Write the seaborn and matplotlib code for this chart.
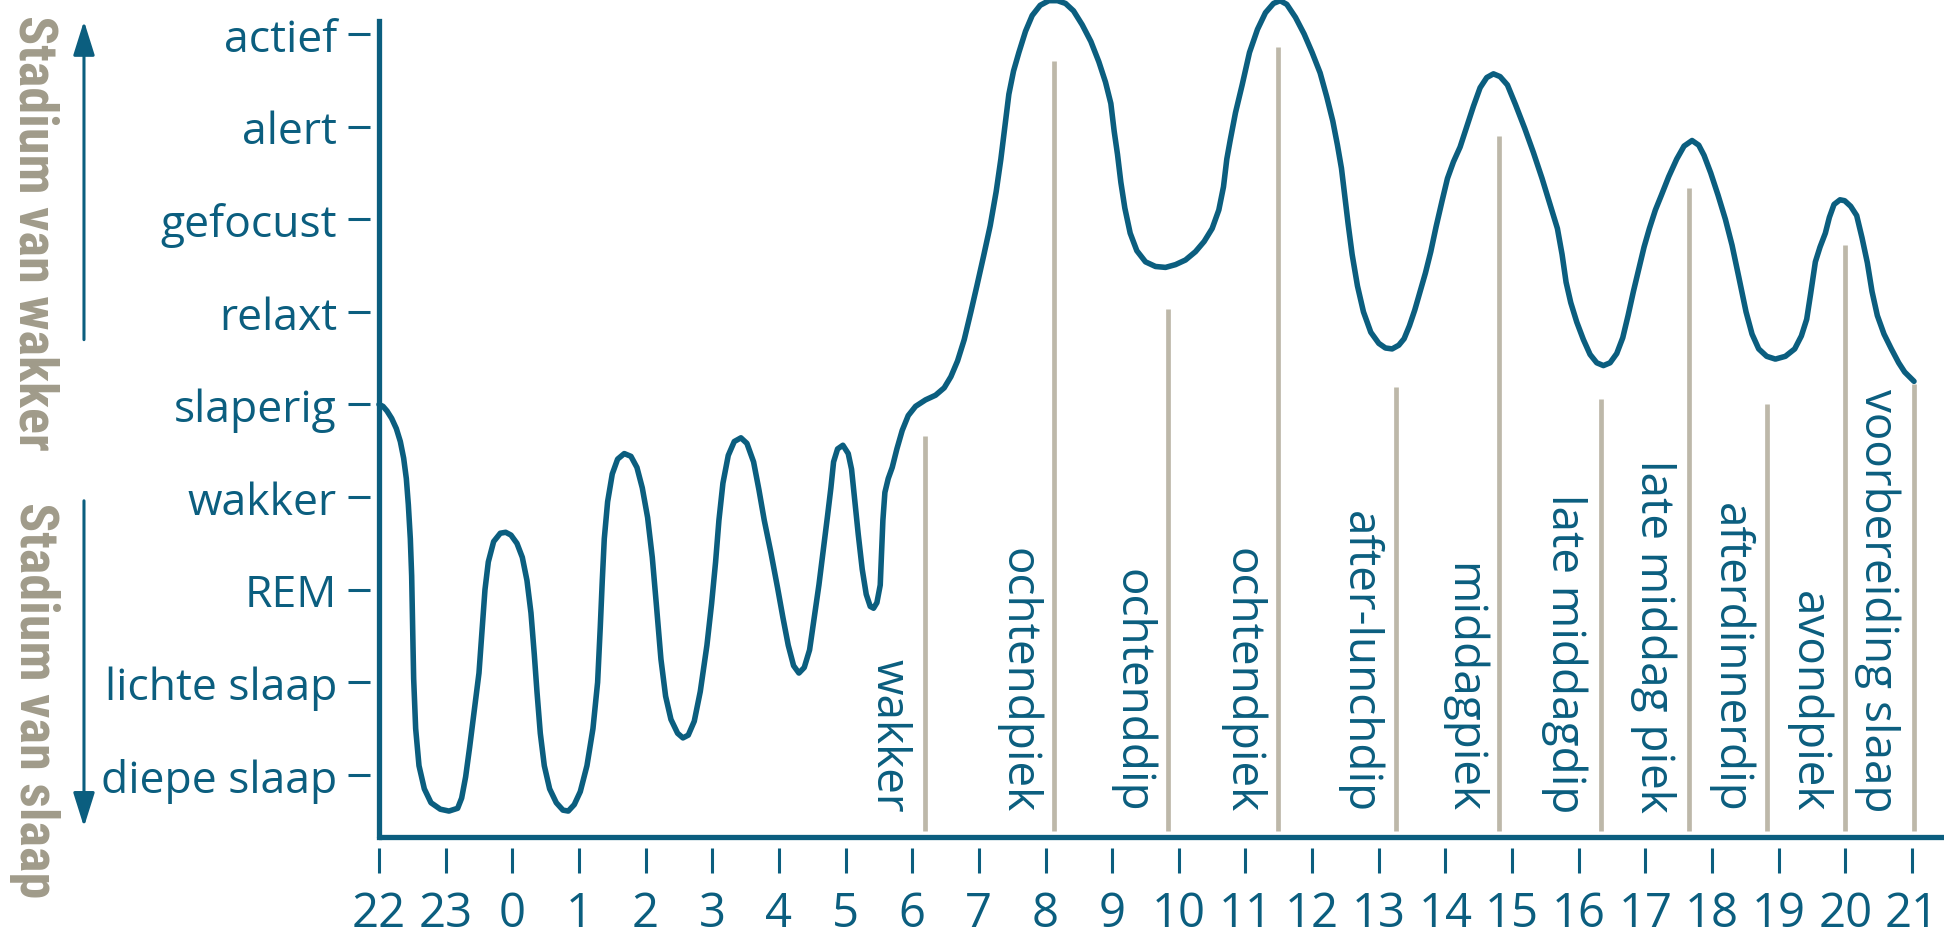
import matplotlib
matplotlib.use("Agg")
import matplotlib.pyplot as plt
import matplotlib.transforms as mtransforms
from matplotlib import font_manager
import seaborn as sns

# hours on the x axis, counted from 22:00
hour_labels = ['22', '23', '0', '1', '2', '3', '4', '5', '6', '7', '8', '9', '10',
               '11', '12', '13', '14', '15', '16', '17', '18', '19', '20', '21']

# stages on the y axis (1 = deepest sleep)
stage_labels = ['diepe slaap', 'lichte slaap', 'REM', 'wakker', 'slaperig',
                'relaxt', 'gefocust', 'alert', 'actief']

# the curve (hours since 22:00, stage level)
curve_t = [0.00, 0.06, 0.12, 0.19, 0.26, 0.32, 0.37, 0.41, 0.44, 0.47, 0.49, 0.50, 0.51,
           0.52, 0.55, 0.60, 0.68, 0.78, 0.92,
           1.05, 1.18, 1.24, 1.30, 1.36, 1.43, 1.50, 1.55, 1.59, 1.64, 1.72, 1.82, 1.90,
           1.98, 2.07, 2.15, 2.22, 2.28, 2.33, 2.37, 2.42, 2.48, 2.56, 2.66, 2.76, 2.84,
           2.93, 3.02, 3.12, 3.21, 3.28, 3.32, 3.35, 3.38, 3.43, 3.50, 3.58, 3.68, 3.78,
           3.87, 3.95, 4.03, 4.10, 4.16, 4.23, 4.30, 4.38, 4.48, 4.56, 4.64, 4.73, 4.82,
           4.92, 4.99, 5.05, 5.10, 5.16, 5.24, 5.33, 5.43, 5.52, 5.62, 5.70, 5.78, 5.88,
           5.98, 6.06, 6.14, 6.22, 6.30, 6.38, 6.46, 6.53, 6.60, 6.67, 6.73, 6.78, 6.82,
           6.88, 6.96, 7.04, 7.09, 7.14, 7.19, 7.25, 7.31, 7.37, 7.42, 7.47, 7.52, 7.54,
           7.56, 7.59, 7.64, 7.70, 7.77, 7.85, 7.94, 8.05, 8.20, 8.35, 8.48, 8.58, 8.68,
           8.78, 8.88, 8.97, 9.07, 9.17, 9.26, 9.33, 9.39, 9.45, 9.52, 9.60, 9.70, 9.80,
           9.92, 10.05, 10.18, 10.30, 10.42, 10.55, 10.68, 10.80, 10.90, 10.98, 11.03,
           11.08, 11.13, 11.19, 11.27, 11.37, 11.50, 11.65, 11.80, 11.95, 12.10, 12.25,
           12.38, 12.50, 12.60, 12.67, 12.72, 12.77, 12.85, 12.95, 13.06, 13.18, 13.30,
           13.42, 13.52, 13.62, 13.75, 13.88, 14.00, 14.12, 14.22, 14.31, 14.38, 14.44,
           14.49, 14.54, 14.60, 14.68, 14.77, 14.88, 15.00, 15.10, 15.20, 15.30, 15.38,
           15.46, 15.54, 15.62, 15.70, 15.78, 15.86, 15.95, 16.03, 16.12, 16.22, 16.32,
           16.42, 16.52, 16.62, 16.72, 16.82, 16.93, 17.05, 17.19, 17.32, 17.45, 17.57,
           17.68, 17.75, 17.81, 17.88, 17.97, 18.07, 18.17, 18.27, 18.37, 18.47, 18.57,
           18.66, 18.74, 18.82, 18.90, 18.98, 19.06, 19.15, 19.24, 19.35, 19.47, 19.58,
           19.70, 19.80, 19.88, 19.98, 20.09, 20.20, 20.30, 20.40, 20.51, 20.60, 20.70,
           20.82, 20.95, 21.10, 21.24, 21.34, 21.42, 21.48, 21.55, 21.62, 21.70, 21.76,
           21.83, 21.92, 21.99, 22.08, 22.17, 22.25, 22.33, 22.40, 22.48, 22.58, 22.69,
           22.80, 22.89, 23.03]
curve_level = [5.00, 4.98, 4.93, 4.85, 4.74, 4.60, 4.42, 4.20, 3.92, 3.55, 3.15, 2.80, 2.40,
               2.04, 1.50, 1.10, 0.85, 0.70, 0.63,
               0.61, 0.64, 0.75, 0.98, 1.30, 1.70, 2.10, 2.60, 3.00, 3.30, 3.52, 3.61, 3.62,
               3.59, 3.50, 3.35, 3.10, 2.75, 2.30, 1.90, 1.45, 1.10, 0.85, 0.70, 0.62, 0.61,
               0.68, 0.82, 1.10, 1.50, 2.00, 2.60, 3.10, 3.55, 3.95, 4.25, 4.41, 4.47, 4.44,
               4.32, 4.10, 3.78, 3.35, 2.85, 2.25, 1.85, 1.60, 1.45, 1.40, 1.43, 1.58, 1.90,
               2.40, 2.85, 3.30, 3.75, 4.15, 4.45, 4.60, 4.64, 4.58, 4.38, 4.08, 3.75, 3.40,
               3.02, 2.70, 2.40, 2.18, 2.10, 2.16, 2.35, 2.70, 3.05, 3.45, 3.80, 4.10, 4.38,
               4.52, 4.56, 4.47, 4.30, 3.95, 3.60, 3.22, 2.95, 2.82, 2.80, 2.86, 3.05, 3.40,
               3.75, 4.05, 4.20, 4.32, 4.52, 4.72, 4.88, 4.98, 5.05, 5.10, 5.18, 5.30, 5.47,
               5.70, 6.00, 6.28, 6.60, 6.93, 7.30, 7.65, 8.00, 8.35, 8.60, 8.80, 9.03, 9.20,
               9.31, 9.36, 9.36, 9.33, 9.25, 9.10, 8.92, 8.70, 8.48, 8.25, 7.95,
               7.70, 7.40, 7.12, 6.85, 6.66, 6.54, 6.49, 6.48, 6.51, 6.56, 6.65,
               6.76, 6.90, 7.10, 7.35, 7.65, 7.85, 8.15, 8.45, 8.80, 9.05, 9.23,
               9.33, 9.36, 9.32, 9.18, 9.00, 8.80, 8.58, 8.32, 8.06, 7.80, 7.55,
               7.25, 6.95, 6.62, 6.28, 6.00, 5.78, 5.66, 5.61, 5.60, 5.64, 5.71,
               5.85, 6.02, 6.22, 6.42, 6.65, 6.92, 7.20, 7.44, 7.62, 7.78, 8.00,
               8.22, 8.42, 8.53, 8.57, 8.54, 8.45, 8.24, 7.98, 7.72, 7.44, 7.16,
               6.90, 6.62, 6.32, 6.10, 5.89, 5.70, 5.54, 5.45, 5.42, 5.45, 5.55,
               5.72, 5.96, 6.22, 6.46, 6.70, 6.90, 7.10, 7.26, 7.46, 7.65, 7.79,
               7.85, 7.80, 7.69, 7.50, 7.26, 7.00, 6.72, 6.38, 6.00, 5.76, 5.60,
               5.52, 5.49, 5.52, 5.60, 5.74, 5.92, 6.20, 6.54, 6.70, 6.85, 7.02,
               7.16, 7.21, 7.20, 7.14, 7.04, 6.80, 6.53, 6.22, 5.96, 5.76, 5.60,
               5.45, 5.35, 5.25]

# grey marker lines with their names
marker_t = [8.19, 10.13, 11.84, 13.49, 15.26, 16.81, 18.33, 19.66, 20.82, 21.99, 23.03]
marker_top = [4.66, 8.71, 6.03, 8.86, 5.19, 7.90, 5.06, 7.34, 5.00, 6.72, 5.22]
marker_labels = ['wakker', 'ochtendpiek', 'ochtenddip', 'ochtendpiek', 'after-lunchdip',
                 'middagpiek', 'late middagdip', 'late middag piek', 'afterdinnerdip',
                 'avondpiek', 'voorbereiding slaap']

blue = '#0b5e7f'
grey_line = '#bdb8a9'
grey_text = '#a09b8a'

sns.set_style('white')
plt.rcParams['font.family'] = ['Open Sans', 'DejaVu Sans']

# narrow bold font for the side captions, whichever is installed
installed = {f.name for f in font_manager.fontManager.ttflist}
narrow = [n for n in ['Roboto Condensed', 'Liberation Sans Narrow', 'Open Sans Condensed',
                      'Roboto'] if n in installed]
narrow_size = 39 if narrow and narrow[0] != 'Roboto' else 34

fig = plt.figure(figsize=(19.44, 9.37), dpi=100)
ax = fig.add_axes([379 / 1944, 99 / 937, 1565 / 1944, 838 / 937])

ax.vlines(marker_t, 0.40, marker_top, color=grey_line, linewidth=3.4, zorder=1)
sns.lineplot(x=curve_t, y=curve_level, sort=False, estimator=None, color=blue,
             linewidth=4.0, ax=ax, zorder=3, clip_on=False)

for t, lab in zip(marker_t, marker_labels):
    ax.text(t - 0.2, 0.60, lab, rotation=270, ha='right', va='bottom',
            fontsize=33, color=blue)

ax.set_xlim(0, 23.48)
ax.set_ylim(0.33, 9.378)
ax.set_xticks(range(len(hour_labels)))
ax.set_xticklabels(hour_labels)
ax.set_yticks(range(1, len(stage_labels) + 1))
ax.set_yticklabels(stage_labels)

for s in ['top', 'right']:
    ax.spines[s].set_visible(False)
ax.spines['left'].set_position(('outward', 6.5))
ax.spines['bottom'].set_position(('outward', 8))
ax.spines['left'].set_color('none')
ax.spines['bottom'].set_color('none')

ax.tick_params(axis='y', length=15.8, width=2.2, color=blue, pad=8,
               labelsize=32, labelcolor=blue, left=True)
ax.tick_params(axis='x', length=18, width=2.2, color=blue, pad=12,
               labelsize=34, labelcolor=blue, bottom=True)

# visible axis lines (ticks sit a little away from them)
ymax_frac = (9.14 - 0.33) / (9.378 - 0.33)
ax.axvline(0, ymin=0, ymax=ymax_frac, color=blue, linewidth=3.8,
           clip_on=False, solid_capstyle='projecting', zorder=4)
ax.axhline(0.33, color=blue, linewidth=3.8, clip_on=False, zorder=4)

# side captions and arrows
side = mtransforms.blended_transform_factory(fig.transFigure, ax.transData)
ax.text(0.0175, 9.22, 'Stadium van wakker', transform=side, rotation=270,
        ha='center', va='top', fontsize=narrow_size, fontweight='bold', color=grey_text,
        family=narrow + ['DejaVu Sans'])
ax.text(0.0175, 3.96, 'Stadium van slaap', transform=side, rotation=270,
        ha='center', va='top', fontsize=narrow_size, fontweight='bold', color=grey_text,
        family=narrow + ['DejaVu Sans'])

arrow = dict(arrowstyle='-|>,head_length=0.7,head_width=0.22', color=blue, lw=2.2,
             mutation_scale=30, shrinkA=0, shrinkB=0)
ax.annotate('', xy=(0.0432, 9.14), xytext=(0.0432, 5.70),
            xycoords=('figure fraction', 'data'), textcoords=('figure fraction', 'data'),
            arrowprops=arrow, annotation_clip=False)
ax.annotate('', xy=(0.0432, 0.44), xytext=(0.0432, 3.96),
            xycoords=('figure fraction', 'data'), textcoords=('figure fraction', 'data'),
            arrowprops=arrow, annotation_clip=False)

fig.savefig('out.png', dpi=100, facecolor='white')
